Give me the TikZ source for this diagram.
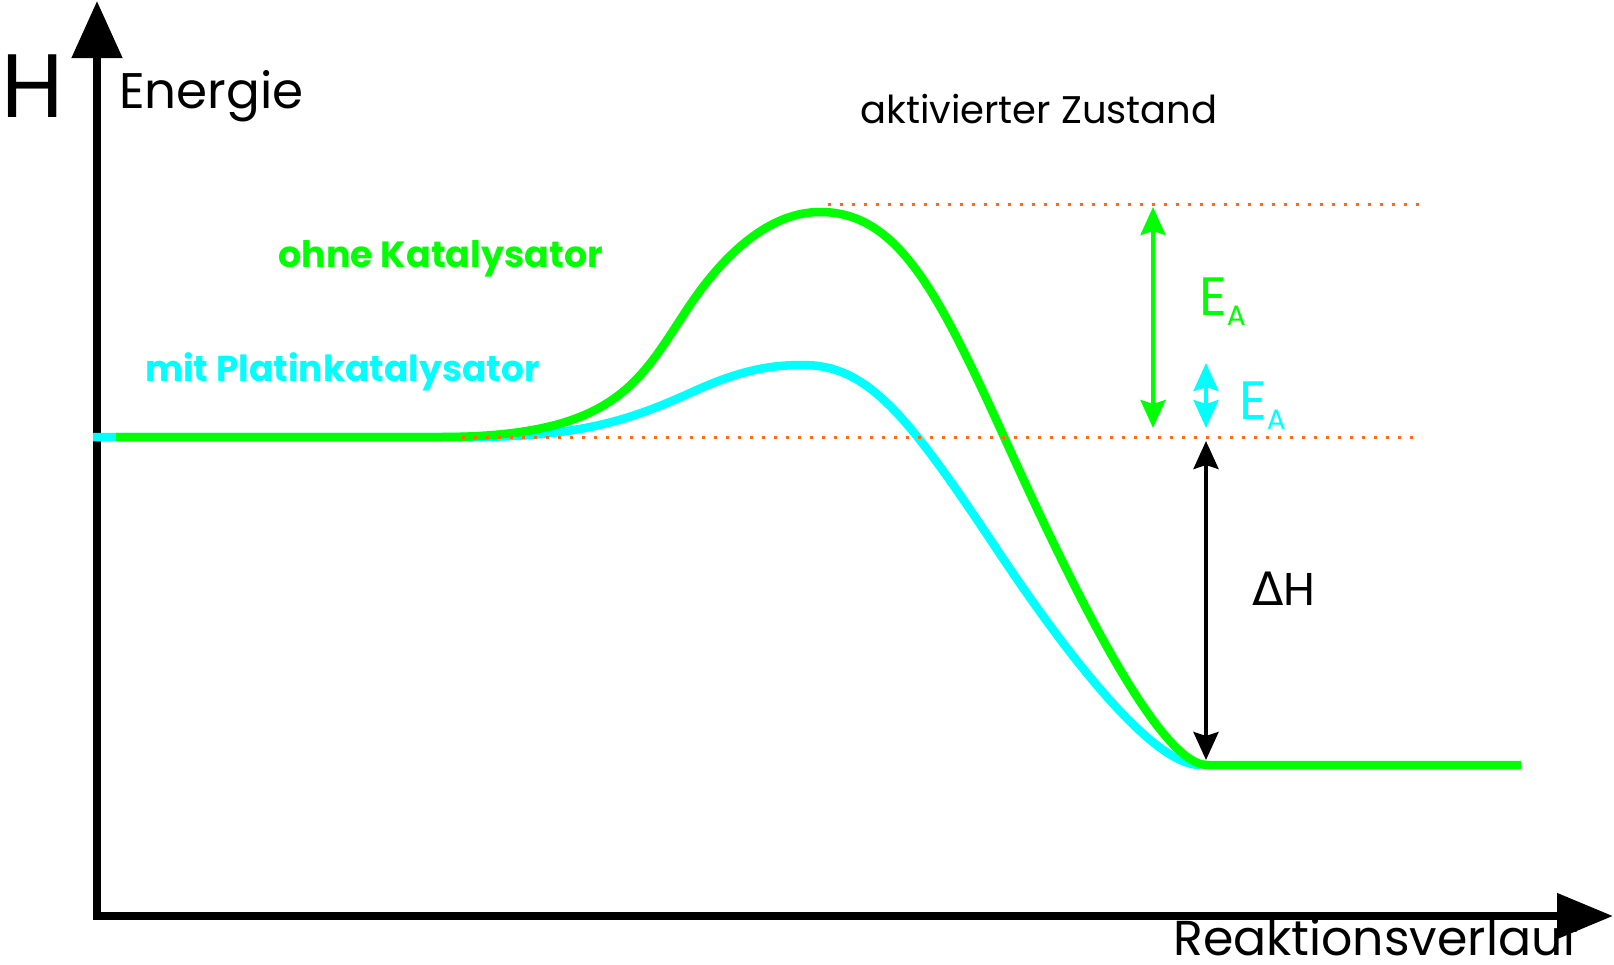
\documentclass[tikz,border=0pt]{standalone}
\usepackage{fontspec}
\setmainfont{Poppins}
\newfontfamily\grk{DejaVu Sans}
\usetikzlibrary{arrows.meta}
\definecolor{grn}{HTML}{00FF00}
\definecolor{cyn}{HTML}{00FFFF}
\definecolor{org}{HTML}{FF6A13}
\begin{document}
\begin{tikzpicture}[x=1pt,y=-1pt,
  curve/.style={line width=8.5pt},
  lvl/.style={draw=org, line width=3pt, dash pattern=on 3pt off 9pt},
  dbl/.style={line width=4pt, {Stealth[length=28pt,width=25pt,inset=4pt]}-{Stealth[length=28pt,width=25pt,inset=4pt]}},
  lbl/.style={inner sep=0pt, anchor=base west},
  axis/.style={line width=8pt, miter limit=10, {Triangle[length=57pt,width=49pt]}-{Triangle[length=56pt,width=44pt]}},
]
\useasboundingbox (0,0) rectangle (1614,964);

% axes
\coordinate (ytip) at (97,1);
\coordinate (origin) at (97,916);
\coordinate (xtip) at (1613,916);
\draw[axis] (ytip) -- (origin) -- (xtip);

% curves
\draw[curve, cyn] (93,437) -- (470,437)
  .. controls (580,437) and (630,420) .. (690,393)
  .. controls (740,370) and (770,365) .. (803,365)
  .. controls (870,365) and (910,419) .. (1000,554)
  .. controls (1060,644) and (1150,765) .. (1200,765);
\draw[curve, grn] (116,437) -- (440,437)
  .. controls (620,437) and (640,379) .. (690,305)
  .. controls (725,253) and (770,212) .. (820,212)
  .. controls (900,212) and (940,296) .. (1010,450)
  .. controls (1065,571) and (1157,765) .. (1207,765) -- (1521,765);

% levels
\coordinate (topL) at (828,204);
\coordinate (topR) at (1422,204);
\coordinate (midL) at (462,437);
\coordinate (midR) at (1422,437);
\draw[lvl] (topL) -- (topR);
\draw[lvl] (midL) -- (midR);

% arrows
\coordinate (ga1) at (1153,207);
\coordinate (ga2) at (1153,428);
\coordinate (ca1) at (1206,363);
\coordinate (ca2) at (1206,428);
\coordinate (ha1) at (1206,441);
\coordinate (ha2) at (1206,760);
\draw[dbl, grn] (ga1) -- (ga2);
\draw[dbl, cyn] (ca1) -- (ca2);
\draw[dbl, black] (ha1) -- (ha2);

% labels
\node[lbl] (H) at (1,117) {\fontsize{90}{100}\selectfont H};
\node[lbl] (energie) at (119,108) {\fontsize{50}{60}\selectfont Energie};
\node[lbl] (akt) at (860,123) {\fontsize{38.5}{46}\selectfont aktivierter Zustand};
\node[lbl, text=grn] (ohne) at (278,267) {\fontsize{36.5}{44}\selectfont\bfseries ohne Katalysator};
\node[lbl, text=cyn] (mit) at (145,381) {\fontsize{36}{44}\selectfont\bfseries mit Platinkatalysator};
\node[lbl, text=grn] (eag) at (1199,315) {\fontsize{54}{60}\selectfont E\raisebox{-10pt}{\fontsize{28}{30}\selectfont A}};
\node[lbl, text=cyn] (eac) at (1239,419) {\fontsize{54}{60}\selectfont E\raisebox{-10pt}{\fontsize{28}{30}\selectfont A}};
\node[lbl] (dh) at (1252,605) {\fontsize{46}{52}\selectfont{\grk Δ}H};
\node[lbl] (rv) at (1173,955) {\fontsize{49}{56}\selectfont Reaktionsverlauf};
\end{tikzpicture}
\end{document}
